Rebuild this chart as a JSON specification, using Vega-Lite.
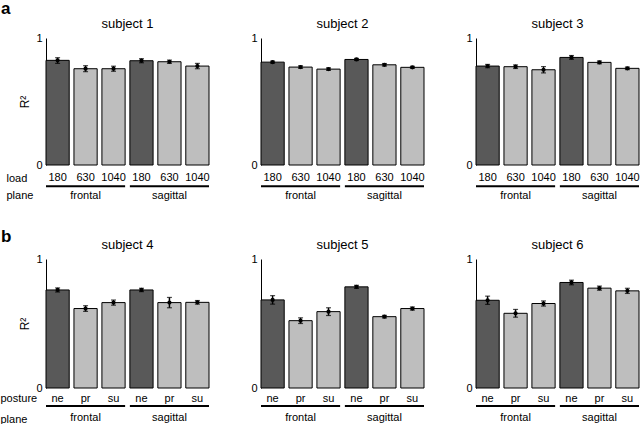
{
  "$schema": "https://vega.github.io/schema/vega-lite/v6.json",
  "background": "white",
  "padding": 0,
  "config": {
    "font": "Liberation Sans",
    "view": {"stroke": null},
    "axis": {"labelColor": "black", "titleColor": "black", "labelFont": "Liberation Sans", "titleFont": "Liberation Sans"},
    "title": {"font": "Liberation Sans", "color": "black"}
  },
  "datasets": {
    "main": [
      {"subject": "subject 1", "key": "frontal 180", "shade": "dark", "r2": 0.824, "lo": 0.80, "hi": 0.845},
      {"subject": "subject 1", "key": "frontal 630", "shade": "light", "r2": 0.758, "lo": 0.735, "hi": 0.782},
      {"subject": "subject 1", "key": "frontal 1040", "shade": "light", "r2": 0.758, "lo": 0.738, "hi": 0.778},
      {"subject": "subject 1", "key": "sagittal 180", "shade": "dark", "r2": 0.821, "lo": 0.805, "hi": 0.837},
      {"subject": "subject 1", "key": "sagittal 630", "shade": "light", "r2": 0.813, "lo": 0.8, "hi": 0.826},
      {"subject": "subject 1", "key": "sagittal 1040", "shade": "light", "r2": 0.779, "lo": 0.758, "hi": 0.8},
      {"subject": "subject 2", "key": "frontal 180", "shade": "dark", "r2": 0.81, "lo": 0.802, "hi": 0.818},
      {"subject": "subject 2", "key": "frontal 630", "shade": "light", "r2": 0.771, "lo": 0.761, "hi": 0.781},
      {"subject": "subject 2", "key": "frontal 1040", "shade": "light", "r2": 0.755, "lo": 0.745, "hi": 0.765},
      {"subject": "subject 2", "key": "sagittal 180", "shade": "dark", "r2": 0.831, "lo": 0.823, "hi": 0.839},
      {"subject": "subject 2", "key": "sagittal 630", "shade": "light", "r2": 0.789, "lo": 0.779, "hi": 0.799},
      {"subject": "subject 2", "key": "sagittal 1040", "shade": "light", "r2": 0.769, "lo": 0.761, "hi": 0.777},
      {"subject": "subject 3", "key": "frontal 180", "shade": "dark", "r2": 0.779, "lo": 0.766, "hi": 0.792},
      {"subject": "subject 3", "key": "frontal 630", "shade": "light", "r2": 0.774, "lo": 0.76, "hi": 0.788},
      {"subject": "subject 3", "key": "frontal 1040", "shade": "light", "r2": 0.75, "lo": 0.725, "hi": 0.775},
      {"subject": "subject 3", "key": "sagittal 180", "shade": "dark", "r2": 0.847, "lo": 0.832, "hi": 0.862},
      {"subject": "subject 3", "key": "sagittal 630", "shade": "light", "r2": 0.808, "lo": 0.797, "hi": 0.819},
      {"subject": "subject 3", "key": "sagittal 1040", "shade": "light", "r2": 0.761, "lo": 0.751, "hi": 0.771},
      {"subject": "subject 4", "key": "frontal ne", "shade": "dark", "r2": 0.76, "lo": 0.744, "hi": 0.776},
      {"subject": "subject 4", "key": "frontal pr", "shade": "light", "r2": 0.616, "lo": 0.594, "hi": 0.638},
      {"subject": "subject 4", "key": "frontal su", "shade": "light", "r2": 0.662, "lo": 0.642, "hi": 0.682},
      {"subject": "subject 4", "key": "sagittal ne", "shade": "dark", "r2": 0.76, "lo": 0.747, "hi": 0.773},
      {"subject": "subject 4", "key": "sagittal pr", "shade": "light", "r2": 0.662, "lo": 0.622, "hi": 0.702},
      {"subject": "subject 4", "key": "sagittal su", "shade": "light", "r2": 0.664, "lo": 0.65, "hi": 0.678},
      {"subject": "subject 5", "key": "frontal ne", "shade": "dark", "r2": 0.683, "lo": 0.65, "hi": 0.716},
      {"subject": "subject 5", "key": "frontal pr", "shade": "light", "r2": 0.522, "lo": 0.5, "hi": 0.544},
      {"subject": "subject 5", "key": "frontal su", "shade": "light", "r2": 0.592, "lo": 0.562, "hi": 0.622},
      {"subject": "subject 5", "key": "sagittal ne", "shade": "dark", "r2": 0.784, "lo": 0.772, "hi": 0.796},
      {"subject": "subject 5", "key": "sagittal pr", "shade": "light", "r2": 0.553, "lo": 0.543, "hi": 0.563},
      {"subject": "subject 5", "key": "sagittal su", "shade": "light", "r2": 0.616, "lo": 0.604, "hi": 0.628},
      {"subject": "subject 6", "key": "frontal ne", "shade": "dark", "r2": 0.68, "lo": 0.648, "hi": 0.712},
      {"subject": "subject 6", "key": "frontal pr", "shade": "light", "r2": 0.579, "lo": 0.549, "hi": 0.609},
      {"subject": "subject 6", "key": "frontal su", "shade": "light", "r2": 0.655, "lo": 0.635, "hi": 0.675},
      {"subject": "subject 6", "key": "sagittal ne", "shade": "dark", "r2": 0.818, "lo": 0.8, "hi": 0.836},
      {"subject": "subject 6", "key": "sagittal pr", "shade": "light", "r2": 0.774, "lo": 0.758, "hi": 0.79},
      {"subject": "subject 6", "key": "sagittal su", "shade": "light", "r2": 0.753, "lo": 0.733, "hi": 0.773}
    ],
    "planesA": [
      {"plane": "frontal", "start": "frontal 180", "mid": "frontal 630", "end": "frontal 1040"},
      {"plane": "sagittal", "start": "sagittal 180", "mid": "sagittal 630", "end": "sagittal 1040"}
    ],
    "planesB": [
      {"plane": "frontal", "start": "frontal ne", "mid": "frontal pr", "end": "frontal su"},
      {"plane": "sagittal", "start": "sagittal ne", "mid": "sagittal pr", "end": "sagittal su"}
    ]
  },
  "spacing": 26,
  "vconcat": [
    {
      "bounds": "flush",
      "spacing": 52,
      "title": {"text": "a", "anchor": "start", "frame": "group", "fontSize": 17, "fontWeight": "bold", "dx": -45, "offset": 0},
      "hconcat": [
        {
          "width": 163, "height": 127,
          "title": {"text": "subject 1", "fontSize": 13, "fontWeight": "normal", "offset": 1},
          "layer": [
            {"data": {"name": "main"}, "transform": [{"filter": "datum.subject == 'subject 1'"}],
             "mark": {"type": "bar", "stroke": "black", "strokeWidth": 1},
             "encoding": {
               "x": {"field": "key", "type": "nominal", "scale": {"domain": ["frontal 180", "frontal 630", "frontal 1040", "sagittal 180", "sagittal 630", "sagittal 1040"], "paddingInner": 0.17, "paddingOuter": 0},
                     "axis": {"labelExpr": "split(datum.value, ' ')[1]", "labelAngle": 0, "labelFontSize": 11, "labelPadding": 6, "ticks": false, "domain": false,
                              "title": ["load", "plane"], "titleX": -40, "titleY": 7, "titleAlign": "left", "titleAnchor": null, "titleBaseline": "top", "titleFontWeight": "normal", "titleFontSize": 11, "titleLineHeight": 17}},
               "y": {"field": "r2", "type": "quantitative", "scale": {"domain": [0, 1]},
                     "axis": {"values": [0, 1], "format": "d", "grid": false, "ticks": false, "domainColor": "black", "labelFontSize": 11, "labelPadding": 4, "title": "R²", "titleFontWeight": "normal", "titleFontSize": 12, "titlePadding": 4}},
               "fill": {"field": "shade", "type": "nominal", "scale": {"domain": ["dark", "light"], "range": ["#595959", "#bebebe"]}, "legend": null}
             }},
            {"data": {"name": "main"}, "transform": [{"filter": "datum.subject == 'subject 1'"}],
             "mark": {"type": "errorbar", "ticks": {"size": 5, "thickness": 1.2}, "rule": {"strokeWidth": 1.5}, "color": "black"},
             "encoding": {"x": {"field": "key", "type": "nominal"}, "y": {"field": "lo", "type": "quantitative", "title": "R²"}, "y2": {"field": "hi"}}},
            {"data": {"name": "main"}, "transform": [{"filter": "datum.subject == 'subject 1'"}],
             "mark": {"type": "point", "filled": true, "size": 18, "color": "black", "opacity": 1},
             "encoding": {"x": {"field": "key", "type": "nominal"}, "y": {"field": "r2", "type": "quantitative"}}},
            {"data": {"name": "planesA"},
             "mark": {"type": "rule", "color": "black", "strokeWidth": 2},
             "encoding": {"x": {"field": "start", "type": "nominal", "bandPosition": 0}, "x2": {"field": "end", "bandPosition": 1}, "y": {"datum": -0.167}}},
            {"data": {"name": "planesA"},
             "mark": {"type": "text", "fontSize": 11, "baseline": "middle", "color": "black"},
             "encoding": {"x": {"field": "mid", "type": "nominal"}, "y": {"datum": -0.246}, "text": {"field": "plane"}}}
          ]
        },
        {
          "width": 163, "height": 127,
          "title": {"text": "subject 2", "fontSize": 13, "fontWeight": "normal", "offset": 1},
          "layer": [
            {"data": {"name": "main"}, "transform": [{"filter": "datum.subject == 'subject 2'"}],
             "mark": {"type": "bar", "stroke": "black", "strokeWidth": 1},
             "encoding": {
               "x": {"field": "key", "type": "nominal", "scale": {"domain": ["frontal 180", "frontal 630", "frontal 1040", "sagittal 180", "sagittal 630", "sagittal 1040"], "paddingInner": 0.17, "paddingOuter": 0},
                     "axis": {"labelExpr": "split(datum.value, ' ')[1]", "labelAngle": 0, "labelFontSize": 11, "labelPadding": 6, "ticks": false, "domain": false, "title": null}},
               "y": {"field": "r2", "type": "quantitative", "scale": {"domain": [0, 1]},
                     "axis": {"values": [0, 1], "format": "d", "grid": false, "ticks": false, "domainColor": "black", "labelFontSize": 11, "labelPadding": 4, "title": null}},
               "fill": {"field": "shade", "type": "nominal", "scale": {"domain": ["dark", "light"], "range": ["#595959", "#bebebe"]}, "legend": null}
             }},
            {"data": {"name": "main"}, "transform": [{"filter": "datum.subject == 'subject 2'"}],
             "mark": {"type": "errorbar", "ticks": {"size": 5, "thickness": 1.2}, "rule": {"strokeWidth": 1.5}, "color": "black"},
             "encoding": {"x": {"field": "key", "type": "nominal"}, "y": {"field": "lo", "type": "quantitative"}, "y2": {"field": "hi"}}},
            {"data": {"name": "main"}, "transform": [{"filter": "datum.subject == 'subject 2'"}],
             "mark": {"type": "point", "filled": true, "size": 18, "color": "black", "opacity": 1},
             "encoding": {"x": {"field": "key", "type": "nominal"}, "y": {"field": "r2", "type": "quantitative"}}},
            {"data": {"name": "planesA"},
             "mark": {"type": "rule", "color": "black", "strokeWidth": 2},
             "encoding": {"x": {"field": "start", "type": "nominal", "bandPosition": 0}, "x2": {"field": "end", "bandPosition": 1}, "y": {"datum": -0.167}}},
            {"data": {"name": "planesA"},
             "mark": {"type": "text", "fontSize": 11, "baseline": "middle", "color": "black"},
             "encoding": {"x": {"field": "mid", "type": "nominal"}, "y": {"datum": -0.246}, "text": {"field": "plane"}}}
          ]
        },
        {
          "width": 163, "height": 127,
          "title": {"text": "subject 3", "fontSize": 13, "fontWeight": "normal", "offset": 1},
          "layer": [
            {"data": {"name": "main"}, "transform": [{"filter": "datum.subject == 'subject 3'"}],
             "mark": {"type": "bar", "stroke": "black", "strokeWidth": 1},
             "encoding": {
               "x": {"field": "key", "type": "nominal", "scale": {"domain": ["frontal 180", "frontal 630", "frontal 1040", "sagittal 180", "sagittal 630", "sagittal 1040"], "paddingInner": 0.17, "paddingOuter": 0},
                     "axis": {"labelExpr": "split(datum.value, ' ')[1]", "labelAngle": 0, "labelFontSize": 11, "labelPadding": 6, "ticks": false, "domain": false, "title": null}},
               "y": {"field": "r2", "type": "quantitative", "scale": {"domain": [0, 1]},
                     "axis": {"values": [0, 1], "format": "d", "grid": false, "ticks": false, "domainColor": "black", "labelFontSize": 11, "labelPadding": 4, "title": null}},
               "fill": {"field": "shade", "type": "nominal", "scale": {"domain": ["dark", "light"], "range": ["#595959", "#bebebe"]}, "legend": null}
             }},
            {"data": {"name": "main"}, "transform": [{"filter": "datum.subject == 'subject 3'"}],
             "mark": {"type": "errorbar", "ticks": {"size": 5, "thickness": 1.2}, "rule": {"strokeWidth": 1.5}, "color": "black"},
             "encoding": {"x": {"field": "key", "type": "nominal"}, "y": {"field": "lo", "type": "quantitative"}, "y2": {"field": "hi"}}},
            {"data": {"name": "main"}, "transform": [{"filter": "datum.subject == 'subject 3'"}],
             "mark": {"type": "point", "filled": true, "size": 18, "color": "black", "opacity": 1},
             "encoding": {"x": {"field": "key", "type": "nominal"}, "y": {"field": "r2", "type": "quantitative"}}},
            {"data": {"name": "planesA"},
             "mark": {"type": "rule", "color": "black", "strokeWidth": 2},
             "encoding": {"x": {"field": "start", "type": "nominal", "bandPosition": 0}, "x2": {"field": "end", "bandPosition": 1}, "y": {"datum": -0.167}}},
            {"data": {"name": "planesA"},
             "mark": {"type": "text", "fontSize": 11, "baseline": "middle", "color": "black"},
             "encoding": {"x": {"field": "mid", "type": "nominal"}, "y": {"datum": -0.246}, "text": {"field": "plane"}}}
          ]
        }
      ]
    },
    {
      "bounds": "flush",
      "spacing": 52,
      "title": {"text": "b", "anchor": "start", "frame": "group", "fontSize": 17, "fontWeight": "bold", "dx": -45, "offset": -7},
      "hconcat": [
        {
          "width": 163, "height": 129,
          "title": {"text": "subject 4", "fontSize": 13, "fontWeight": "normal", "offset": 1},
          "layer": [
            {"data": {"name": "main"}, "transform": [{"filter": "datum.subject == 'subject 4'"}],
             "mark": {"type": "bar", "stroke": "black", "strokeWidth": 1},
             "encoding": {
               "x": {"field": "key", "type": "nominal", "scale": {"domain": ["frontal ne", "frontal pr", "frontal su", "sagittal ne", "sagittal pr", "sagittal su"], "paddingInner": 0.17, "paddingOuter": 0},
                     "axis": {"labelExpr": "split(datum.value, ' ')[1]", "labelAngle": 0, "labelFontSize": 11, "labelPadding": 4, "ticks": false, "domain": false,
                              "title": ["posture", "plane"], "titleX": -46, "titleY": 4, "titleAlign": "left", "titleAnchor": null, "titleBaseline": "top", "titleFontWeight": "normal", "titleFontSize": 11, "titleLineHeight": 21}},
               "y": {"field": "r2", "type": "quantitative", "scale": {"domain": [0, 1]},
                     "axis": {"values": [0, 1], "format": "d", "grid": false, "ticks": false, "domainColor": "black", "labelFontSize": 11, "labelPadding": 4, "title": "R²", "titleFontWeight": "normal", "titleFontSize": 12, "titlePadding": 4}},
               "fill": {"field": "shade", "type": "nominal", "scale": {"domain": ["dark", "light"], "range": ["#595959", "#bebebe"]}, "legend": null}
             }},
            {"data": {"name": "main"}, "transform": [{"filter": "datum.subject == 'subject 4'"}],
             "mark": {"type": "errorbar", "ticks": {"size": 5, "thickness": 1.2}, "rule": {"strokeWidth": 1.5}, "color": "black"},
             "encoding": {"x": {"field": "key", "type": "nominal"}, "y": {"field": "lo", "type": "quantitative", "title": "R²"}, "y2": {"field": "hi"}}},
            {"data": {"name": "main"}, "transform": [{"filter": "datum.subject == 'subject 4'"}],
             "mark": {"type": "point", "filled": true, "size": 18, "color": "black", "opacity": 1},
             "encoding": {"x": {"field": "key", "type": "nominal"}, "y": {"field": "r2", "type": "quantitative"}}},
            {"data": {"name": "planesB"},
             "mark": {"type": "rule", "color": "black", "strokeWidth": 2},
             "encoding": {"x": {"field": "start", "type": "nominal", "bandPosition": 0}, "x2": {"field": "end", "bandPosition": 1}, "y": {"datum": -0.14}}},
            {"data": {"name": "planesB"},
             "mark": {"type": "text", "fontSize": 11, "baseline": "middle", "color": "black"},
             "encoding": {"x": {"field": "mid", "type": "nominal"}, "y": {"datum": -0.233}, "text": {"field": "plane"}}}
          ]
        },
        {
          "width": 163, "height": 129,
          "title": {"text": "subject 5", "fontSize": 13, "fontWeight": "normal", "offset": 1},
          "layer": [
            {"data": {"name": "main"}, "transform": [{"filter": "datum.subject == 'subject 5'"}],
             "mark": {"type": "bar", "stroke": "black", "strokeWidth": 1},
             "encoding": {
               "x": {"field": "key", "type": "nominal", "scale": {"domain": ["frontal ne", "frontal pr", "frontal su", "sagittal ne", "sagittal pr", "sagittal su"], "paddingInner": 0.17, "paddingOuter": 0},
                     "axis": {"labelExpr": "split(datum.value, ' ')[1]", "labelAngle": 0, "labelFontSize": 11, "labelPadding": 4, "ticks": false, "domain": false, "title": null}},
               "y": {"field": "r2", "type": "quantitative", "scale": {"domain": [0, 1]},
                     "axis": {"values": [0, 1], "format": "d", "grid": false, "ticks": false, "domainColor": "black", "labelFontSize": 11, "labelPadding": 4, "title": null}},
               "fill": {"field": "shade", "type": "nominal", "scale": {"domain": ["dark", "light"], "range": ["#595959", "#bebebe"]}, "legend": null}
             }},
            {"data": {"name": "main"}, "transform": [{"filter": "datum.subject == 'subject 5'"}],
             "mark": {"type": "errorbar", "ticks": {"size": 5, "thickness": 1.2}, "rule": {"strokeWidth": 1.5}, "color": "black"},
             "encoding": {"x": {"field": "key", "type": "nominal"}, "y": {"field": "lo", "type": "quantitative"}, "y2": {"field": "hi"}}},
            {"data": {"name": "main"}, "transform": [{"filter": "datum.subject == 'subject 5'"}],
             "mark": {"type": "point", "filled": true, "size": 18, "color": "black", "opacity": 1},
             "encoding": {"x": {"field": "key", "type": "nominal"}, "y": {"field": "r2", "type": "quantitative"}}},
            {"data": {"name": "planesB"},
             "mark": {"type": "rule", "color": "black", "strokeWidth": 2},
             "encoding": {"x": {"field": "start", "type": "nominal", "bandPosition": 0}, "x2": {"field": "end", "bandPosition": 1}, "y": {"datum": -0.14}}},
            {"data": {"name": "planesB"},
             "mark": {"type": "text", "fontSize": 11, "baseline": "middle", "color": "black"},
             "encoding": {"x": {"field": "mid", "type": "nominal"}, "y": {"datum": -0.233}, "text": {"field": "plane"}}}
          ]
        },
        {
          "width": 163, "height": 129,
          "title": {"text": "subject 6", "fontSize": 13, "fontWeight": "normal", "offset": 1},
          "layer": [
            {"data": {"name": "main"}, "transform": [{"filter": "datum.subject == 'subject 6'"}],
             "mark": {"type": "bar", "stroke": "black", "strokeWidth": 1},
             "encoding": {
               "x": {"field": "key", "type": "nominal", "scale": {"domain": ["frontal ne", "frontal pr", "frontal su", "sagittal ne", "sagittal pr", "sagittal su"], "paddingInner": 0.17, "paddingOuter": 0},
                     "axis": {"labelExpr": "split(datum.value, ' ')[1]", "labelAngle": 0, "labelFontSize": 11, "labelPadding": 4, "ticks": false, "domain": false, "title": null}},
               "y": {"field": "r2", "type": "quantitative", "scale": {"domain": [0, 1]},
                     "axis": {"values": [0, 1], "format": "d", "grid": false, "ticks": false, "domainColor": "black", "labelFontSize": 11, "labelPadding": 4, "title": null}},
               "fill": {"field": "shade", "type": "nominal", "scale": {"domain": ["dark", "light"], "range": ["#595959", "#bebebe"]}, "legend": null}
             }},
            {"data": {"name": "main"}, "transform": [{"filter": "datum.subject == 'subject 6'"}],
             "mark": {"type": "errorbar", "ticks": {"size": 5, "thickness": 1.2}, "rule": {"strokeWidth": 1.5}, "color": "black"},
             "encoding": {"x": {"field": "key", "type": "nominal"}, "y": {"field": "lo", "type": "quantitative"}, "y2": {"field": "hi"}}},
            {"data": {"name": "main"}, "transform": [{"filter": "datum.subject == 'subject 6'"}],
             "mark": {"type": "point", "filled": true, "size": 18, "color": "black", "opacity": 1},
             "encoding": {"x": {"field": "key", "type": "nominal"}, "y": {"field": "r2", "type": "quantitative"}}},
            {"data": {"name": "planesB"},
             "mark": {"type": "rule", "color": "black", "strokeWidth": 2},
             "encoding": {"x": {"field": "start", "type": "nominal", "bandPosition": 0}, "x2": {"field": "end", "bandPosition": 1}, "y": {"datum": -0.14}}},
            {"data": {"name": "planesB"},
             "mark": {"type": "text", "fontSize": 11, "baseline": "middle", "color": "black"},
             "encoding": {"x": {"field": "mid", "type": "nominal"}, "y": {"datum": -0.233}, "text": {"field": "plane"}}}
          ]
        }
      ]
    }
  ]
}
